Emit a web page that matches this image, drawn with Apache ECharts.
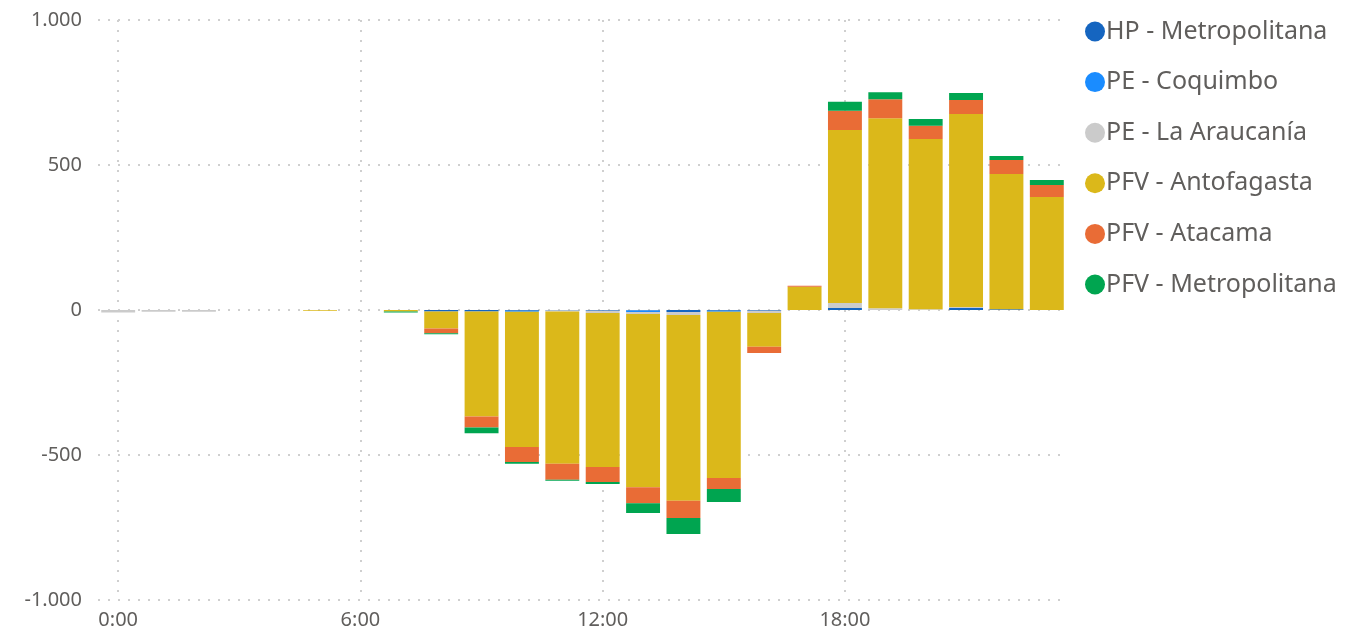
<!DOCTYPE html>
<html>
<head>
    <meta charset="utf-8">
    <title>Generación por hora</title>
    <script src="https://cdn.jsdelivr.net/npm/echarts@6/dist/echarts.min.js"></script>
    <style>
        html, body { margin: 0; padding: 0; background: #fff; }
        #chart1 { width: 1345px; height: 633px; }
    </style>
</head>
<body>
    <div id="chart1"></div>
    <script type="text/javascript">
        // horas del día
        var hours = ['0:00','1:00','2:00','3:00','4:00','5:00','6:00','7:00','8:00','9:00','10:00','11:00',
                     '12:00','13:00','14:00','15:00','16:00','17:00','18:00','19:00','20:00','21:00','22:00','23:00'];

        var seriesNames = ['HP - Metropolitana','PE - Coquimbo','PE - La Araucanía','PFV - Antofagasta','PFV - Atacama','PFV - Metropolitana'];
        var seriesColors = ['#1565c0','#1a8cff','#cbcbcb','#dbb81a','#e96c36','#00a550'];

        var hpMetropolitana  = [0,0,0,0,0,0,0,0,-5,-5,-3,-2,-3,-2,-7,-3,-3,0,7,0,0,7,3,0];
        var peCoquimbo       = [0,0,0,0,0,0,0,0,0,0,-3,0,0,-5,0,-3,0,0,0,0,0,0,0,0];
        var peAraucania      = [-9,-6,-6,0,0,0,0,0,0,0,0,-3,-7,-7,-10,0,-7,0,17,6,3,3,0,0];
        var pfvAntofagasta   = [0,0,0,0,0,-3,0,-5,-59,-362,-466,-525,-531,-597,-641,-573,-117,80,597,655,587,666,466,390];
        var pfvAtacama       = [0,0,0,0,0,0,0,0,-16,-38,-52,-55,-52,-55,-59,-38,-21,4,66,66,45,48,48,41];
        var pfvMetropolitana = [0,0,0,0,0,0,0,-4,-4,-20,-6,-4,-7,-34,-55,-45,0,0,31,24,24,24,14,17];

        var yTicks = [-1000, -500, 0, 500, 1000];

        var allData = [hpMetropolitana, peCoquimbo, peAraucania, pfvAntofagasta, pfvAtacama, pfvMetropolitana];

        var myChart1 = echarts.init(document.getElementById('chart1'));

        // líneas de cuadrícula punteadas
        var gridLine = { type: [2, 8], color: '#cfcfcf', width: 2 };

        var series = [];
        for (var i = 0; i < seriesNames.length; i++) {
            series.push({
                name: seriesNames[i],
                type: 'bar',
                stack: 'total',
                barCategoryGap: '16%',
                itemStyle: { color: seriesColors[i] },
                data: allData[i]
            });
        }

        var option = {
            animation: false,
            textStyle: { fontFamily: 'Noto Sans' },
            grid: { left: 98, right: 278, top: 20, bottom: 33 },
            legend: {
                orient: 'vertical',
                left: 1080,
                top: 14,
                itemWidth: 20,
                itemHeight: 20,
                itemGap: 25.6,
                icon: 'circle',
                textStyle: { fontSize: 25, lineHeight: 24, color: '#605e5c', padding: [0, 0, 0, -4] },
                data: seriesNames
            },
            xAxis: {
                type: 'category',
                data: hours,
                axisLine: { show: false },
                axisTick: { show: false },
                axisLabel: { interval: 5, fontSize: 20, color: '#605e5c', margin: 10 },
                splitLine: {
                    show: true,
                    interval: 5,
                    alignWithLabel: true,
                    lineStyle: gridLine
                }
            },
            yAxis: {
                type: 'value',
                min: yTicks[0],
                max: yTicks[yTicks.length - 1],
                interval: 500,
                axisLine: { show: false },
                axisTick: { show: false },
                axisLabel: {
                    fontSize: 20,
                    color: '#605e5c',
                    margin: 16,
                    formatter: function (v) {
                        var s = Math.abs(v).toString().replace(/\B(?=(\d{3})+(?!\d))/g, '.');
                        return (v < 0 ? '-' : '') + s;
                    }
                },
                splitLine: { lineStyle: gridLine }
            },
            series: series
        };
        myChart1.setOption(option);
    </script>
</body>
</html>
